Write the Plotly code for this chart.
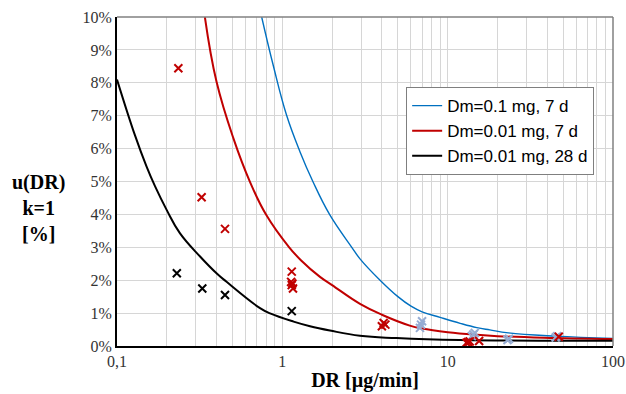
import plotly.graph_objects as go

# ---- curve data ----
blue_x = [0.75, 0.88, 1.06, 1.28, 1.53, 1.93, 2.63, 2.95, 3.9, 5.0, 6.0, 7.0, 9.0, 11.9, 15, 18, 23.3, 45, 100]
blue_y = [10.0, 8.54, 7.02, 5.9, 5.0, 4.0, 3.0, 2.65, 2.0, 1.5, 1.21, 1.04, 0.87, 0.69, 0.56, 0.49, 0.40, 0.30, 0.23]

red_x = [0.34, 0.40, 0.506, 0.637, 0.80, 1.1, 1.3, 1.69, 2.0, 2.95, 4.0, 5.9, 7.0, 10, 15, 20, 38, 100]
red_y = [10.0, 8.03, 6.31, 4.99, 3.98, 3.0, 2.6, 2.1, 1.85, 1.28, 0.95, 0.62, 0.53, 0.42, 0.34, 0.30, 0.25, 0.21]

black_x = [0.1, 0.1285, 0.151, 0.17, 0.2, 0.24, 0.318, 0.40, 0.46, 0.733, 0.843, 1.17, 1.47, 1.94, 2.95, 4.9, 11.8, 100]
black_y = [8.1, 6.4, 5.45, 4.85, 4.13, 3.43, 2.72, 2.21, 1.95, 1.15, 0.99, 0.74, 0.60, 0.47, 0.31, 0.24, 0.18, 0.16]

# ---- measured points ----
red_pts_x = [0.235, 0.325, 0.45, 1.14, 1.13, 1.15, 1.16, 1.14, 4.0, 4.1, 4.2, 13.0, 13.3, 13.6, 15.5, 47]
red_pts_y = [8.44, 4.52, 3.56, 2.26, 1.95, 1.9, 1.75, 1.85, 0.6, 0.7, 0.65, 0.1, 0.12, 0.14, 0.15, 0.28]

black_pts_x = [0.23, 0.328, 0.45, 1.14]
black_pts_y = [2.21, 1.75, 1.55, 1.06]

gray_pts_x = [6.8, 6.9, 7.0, 14.0, 14.3, 14.6, 23.0, 23.5, 45, 46]
gray_pts_y = [0.55, 0.65, 0.75, 0.3, 0.35, 0.4, 0.18, 0.22, 0.26, 0.3]

legend_names = ["Dm=0.1 mg, 7 d", "Dm=0.01 mg, 7 d", "Dm=0.01 mg, 28 d"]

x_tickvals = [d * m for d in [0.1, 1, 10] for m in range(1, 10)] + [100]
x_labels = {0.1: "0,1", 1: "1", 10: "10", 100: "100"}
x_ticktext = [x_labels.get(v, "") for v in x_tickvals]
y_tickvals = list(range(0, 11))
y_ticktext = [f"{v}%" for v in y_tickvals]

BLUE = "#0070C0"
RED = "#C00000"
GRAYBLUE = "#95ACD3"

fig = go.Figure()
fig.add_trace(go.Scatter(x=blue_x, y=blue_y, mode="lines", name=legend_names[0],
                         line=dict(color=BLUE, width=1.4, shape="spline", smoothing=1.2)))
fig.add_trace(go.Scatter(x=red_x, y=red_y, mode="lines", name=legend_names[1],
                         line=dict(color=RED, width=2, shape="spline", smoothing=1.2)))
fig.add_trace(go.Scatter(x=black_x, y=black_y, mode="lines", name=legend_names[2],
                         line=dict(color="black", width=2, shape="spline", smoothing=1.2)))

def mk(c):
    return dict(symbol="x-thin", size=8, line=dict(color=c, width=2), color=c)

fig.add_trace(go.Scatter(x=gray_pts_x, y=gray_pts_y, mode="markers", marker=mk(GRAYBLUE), showlegend=False))
fig.add_trace(go.Scatter(x=red_pts_x, y=red_pts_y, mode="markers", marker=mk(RED), showlegend=False))
fig.add_trace(go.Scatter(x=black_pts_x, y=black_pts_y, mode="markers", marker=mk("black"), showlegend=False))

serif = "Liberation Serif, Times New Roman, serif"
sans = "Liberation Sans, Arial, sans-serif"

fig.update_layout(
    width=626, height=394,
    margin=dict(l=117, r=13, t=17, b=48, autoexpand=False),
    paper_bgcolor="white", plot_bgcolor="white",
    font=dict(family=serif, size=16, color="#333333"),
    legend=dict(x=0.962, y=0.787, xanchor="right", yanchor="top",
                bgcolor="white", bordercolor="#7F7F7F", borderwidth=1,
                font=dict(family=sans, size=17, color="black"),
                tracegroupgap=0, itemwidth=30),
    xaxis=dict(type="log", range=[-1, 2], tickvals=x_tickvals, ticktext=x_ticktext,
               showgrid=True, gridcolor="#D6D6D6", gridwidth=1, automargin=False,
               showline=True, linecolor="black", linewidth=2, ticks="",
               zeroline=False, tickfont=dict(family=serif, size=16, color="#333333"),
               title=dict(text="<b>DR [µg/min]</b>", font=dict(family=serif, size=20, color="black"), standoff=4)),
    yaxis=dict(range=[0, 10], tickvals=y_tickvals, ticktext=y_ticktext,
               showgrid=True, gridcolor="#D6D6D6", gridwidth=1, automargin=False,
               showline=True, linecolor="black", linewidth=2, ticks="",
               zeroline=False, tickfont=dict(family=serif, size=16, color="#333333")),
    shapes=[
        dict(type="line", xref="x domain", yref="y domain", x0=0, x1=1, y0=1, y1=1,
             line=dict(color="#808080", width=1.5), layer="above"),
        dict(type="line", xref="x domain", yref="y domain", x0=1, x1=1, y0=0, y1=1,
             line=dict(color="#808080", width=1.5), layer="above"),
    ],
    annotations=[dict(text="<b>u(DR)<br>k=1<br>[%]</b>", xref="paper", yref="paper",
                      x=-0.158, y=0.42, xanchor="center", yanchor="middle", showarrow=False,
                      align="center", font=dict(family=serif, size=20, color="black"))],
)

fig.write_html("out.html", config={"displayModeBar": False},
               post_script="document.body.style.margin='0';")
